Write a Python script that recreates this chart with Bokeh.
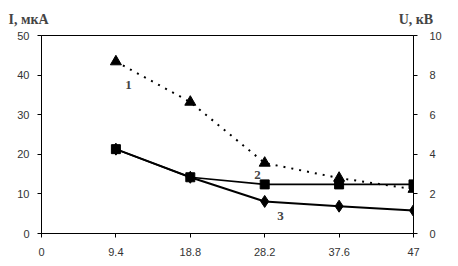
from bokeh.plotting import figure
from bokeh.models import Range1d, LinearAxis, FixedTicker, Label
from bokeh.embed import file_html
from bokeh.resources import INLINE

x = [9.4, 18.8, 28.2, 37.6, 47]
x_ticks = [0, 9.4, 18.8, 28.2, 37.6, 47]
x_tick_labels = {0: "0", 9.4: "9.4", 18.8: "18.8", 28.2: "28.2", 37.6: "37.6", 47: "47"}
curve1 = [43.4, 33.2, 17.8, 14.0, 11.2]   # triangles, dotted
curve2 = [21.3, 14.2, 12.4, 12.4, 12.4]   # squares
curve3 = [21.3, 14.2, 8.1, 6.9, 5.8]      # diamonds
left_ticks = [0, 10, 20, 30, 40, 50]
right_ticks = [0, 2, 4, 6, 8, 10]
curve_names = ["1", "2", "3"]
name_x = [11.0, 27.3, 30.2]
name_y = [37.6, 14.7, 4.3]
left_title = "I, мкА"
right_title = "U, кВ"

p = figure(width=458, height=266, output_backend="svg", toolbar_location=None,
           x_range=Range1d(0, 47), y_range=Range1d(0, 50),
           min_border_left=41, min_border_right=45, min_border_top=10, min_border_bottom=33)
p.extra_y_ranges = {"u": Range1d(0, 10)}
p.xgrid.visible = False
p.ygrid.visible = False
p.outline_line_color = "black"
p.outline_line_width = 1
p.background_fill_color = "white"
p.border_fill_color = "white"

# both axis titles share the title line, separated by non-breaking spaces
p.title.text = left_title + "\u00a0" * 100 + right_title
p.title.align = "left"
p.title.offset = -33
p.title.text_font = "Liberation Serif"
p.title.text_font_style = "bold"
p.title.text_font_size = "14px"
p.title.standoff = 18

font = "Liberation Sans"
for ax in [p.xaxis[0], p.yaxis[0]]:
    ax.axis_line_color = "black"
    ax.major_tick_line_color = "black"
    ax.minor_tick_line_color = None
    ax.major_tick_in = 0
    ax.major_tick_out = 4
    ax.major_label_text_font = font
    ax.major_label_text_font_size = "11px"
    ax.major_label_text_color = "#333333"

p.xaxis.ticker = FixedTicker(ticks=x_ticks)
p.xaxis.major_label_overrides = x_tick_labels
p.xaxis.major_label_standoff = 10
p.yaxis.ticker = FixedTicker(ticks=left_ticks)
p.yaxis.major_label_standoff = 8

ra = LinearAxis(y_range_name="u", ticker=FixedTicker(ticks=right_ticks))
ra.axis_line_color = "black"
ra.major_tick_line_color = "black"
ra.minor_tick_line_color = None
ra.major_tick_in = 0
ra.major_tick_out = 4
ra.major_label_text_font = font
ra.major_label_text_font_size = "11px"
ra.major_label_text_color = "#333333"
ra.major_label_standoff = 12
p.add_layout(ra, "right")

p.line(x, curve1, line_color="black", line_width=2, line_dash="2 6")
p.scatter(x, curve1, marker="triangle", size=11, color="black")

p.line(x, curve2, line_color="black", line_width=1.6)
p.scatter(x, curve2, marker="square", size=9, color="black")

p.line(x, curve3, line_color="black", line_width=2)
p.scatter(x, curve3, marker="diamond", size=12, color="black")

for txt, xx, yy in zip(curve_names, name_x, name_y):
    p.add_layout(Label(x=xx, y=yy, text=txt,
                       text_font="Liberation Serif", text_font_style="bold",
                       text_font_size="13px", text_align="center", text_baseline="middle"))

open("out.html", "w").write(file_html(p, INLINE))
